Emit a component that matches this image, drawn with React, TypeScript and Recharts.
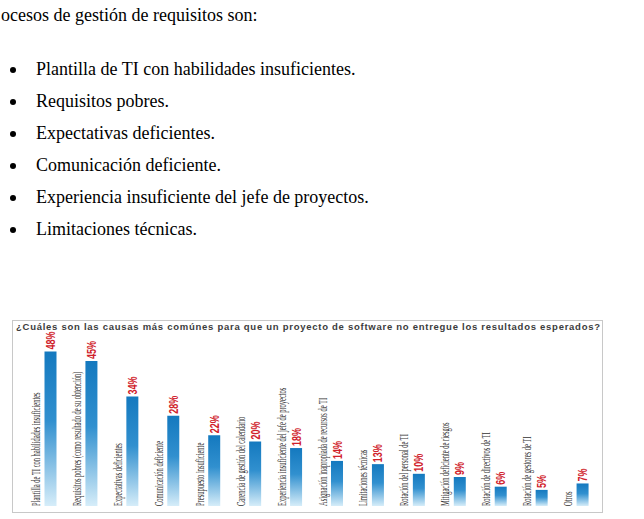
import { BarChart, Bar, XAxis, YAxis, LabelList } from "recharts";

const intro = "ocesos de gestión de requisitos son:";

const puntos = [
  "Plantilla de TI con habilidades insuficientes.",
  "Requisitos pobres.",
  "Expectativas deficientes.",
  "Comunicación deficiente.",
  "Experiencia insuficiente del jefe de proyectos.",
  "Limitaciones técnicas.",
];

const titulo =
  "¿Cuáles son las causas más comúnes para que un proyecto de software no entregue los resultados esperados?";

const causas = [
  "Plantilla de TI con habilidades insuficientes",
  "Requisitos pobres (como resultado de su obtención)",
  "Expectativas deficientes",
  "Comunicación deficiente",
  "Presupuesto insuficiente",
  "Carencia de gestión del calendario",
  "Experiencia insuficiente del jefe de proyectos",
  "Asignación inapropiada de recursos de TI",
  "Limitaciones técnicas",
  "Rotación del personal de TI",
  "Mitigación deficiente de riesgos",
  "Rotación de directivos de TI",
  "Rotación de gestores de TI",
  "Otros",
];

const porcentajes = [48, 45, 34, 28, 22, 20, 18, 14, 13, 10, 9, 6, 5, 7];

const data = causas.map((causa, i) => ({ causa, pct: porcentajes[i] }));

// category name, rotated and squeezed, sitting left of its bar
function CausaLabel(props: any) {
  const { x, y, width, height, value } = props;
  const cx = x + width / 2;
  const bottom = y + height;
  return (
    <text
      transform={`translate(${cx - 10.5}, ${bottom}) rotate(-90) scale(0.565, 1)`}
      fontFamily="'Liberation Serif', serif"
      fontSize={11.5}
      fill="#333"
    >
      {value}
    </text>
  );
}

// red percentage above the bar
function PctLabel(props: any) {
  const { x, y, width, value } = props;
  const cx = x + width / 2;
  return (
    <text
      transform={`translate(${cx + 4.5}, ${y - 2}) rotate(-90) scale(0.72, 1)`}
      fontFamily="'Liberation Sans', Arial, sans-serif"
      fontWeight="bold"
      fontSize={12.5}
      fill="#d0212b"
    >
      {`${value}%`}
    </text>
  );
}

export default function App() {
  return (
    <div
      style={{
        position: "absolute",
        left: 0,
        top: 0,
        width: 644,
        height: 519,
        overflow: "hidden",
        background: "#fff",
        fontFamily: "'Liberation Serif', 'Times New Roman', serif",
        color: "#000",
      }}
    >
      <div style={{ position: "absolute", left: 1, top: 5, fontSize: 18, lineHeight: "20px", whiteSpace: "nowrap" }}>
        {intro}
      </div>

      {puntos.map((p, i) => (
        <div key={p}>
          <span
            style={{
              position: "absolute",
              left: 9.5,
              top: 66.5 + i * 32,
              width: 6,
              height: 6,
              borderRadius: "50%",
              background: "#000",
            }}
          />
          <div
            style={{
              position: "absolute",
              left: 36,
              top: 58.5 + i * 32,
              fontSize: 18,
              lineHeight: "20px",
              whiteSpace: "nowrap",
            }}
          >
            {p}
          </div>
        </div>
      ))}

      <div
        style={{
          position: "absolute",
          left: 12,
          top: 320,
          width: 589,
          height: 191,
          border: "1px solid #c8c8c8",
        }}
      />

      <svg style={{ position: "absolute", left: 0, top: 318 }} width={644} height={16}>
        <text
          x={16}
          y={11.5}
          textLength={584}
          lengthAdjust="spacing"
          fontFamily="'Liberation Sans', Arial, sans-serif"
          fontWeight="bold"
          fontSize={9.5}
          fill="#3c3c3c"
        >
          {titulo}
        </text>
      </svg>

      <div style={{ position: "absolute", left: 0, top: 300 }}>
        <BarChart
          width={644}
          height={219}
          data={data}
          margin={{ top: 45, right: 40.5, bottom: 13, left: 30.5 }}
        >
          <defs>
            <linearGradient id="barraAzul" x1="0" y1="0" x2="0" y2="1">
              <stop offset="0%" stopColor="#1479bf" />
              <stop offset="45%" stopColor="#3190cf" />
              <stop offset="100%" stopColor="#d6edf9" />
            </linearGradient>
          </defs>
          <XAxis dataKey="causa" hide />
          <YAxis domain={[0, 50]} hide />
          <Bar dataKey="pct" barSize={12} fill="url(#barraAzul)" isAnimationActive={false}>
            <LabelList dataKey="causa" content={<CausaLabel />} />
            <LabelList dataKey="pct" content={<PctLabel />} />
          </Bar>
        </BarChart>
      </div>
    </div>
  );
}
